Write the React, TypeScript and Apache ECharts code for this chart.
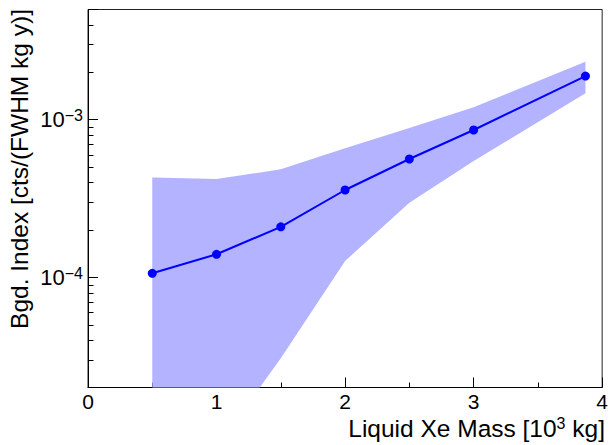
import React, { useEffect, useRef } from "react";
import * as echarts from "echarts";

// ---- data ----
const massX = [0.5, 1.0, 1.5, 2.0, 2.5, 3.0, 3.87];
const bgdIndex = [1.06e-4, 1.4e-4, 2.09e-4, 3.58e-4, 5.63e-4, 8.6e-4, 1.89e-3];
const bandUpper = [4.3e-4, 4.2e-4, 4.84e-4, 6.6e-4, 8.85e-4, 1.2e-3, 2.33e-3];
const bandLower = [5e-6, 8.3e-6, 3.07e-5, 1.27e-4, 2.97e-4, 5.47e-4, 1.47e-3];
const yMinorTicks = [
  3e-5, 4e-5, 5e-5, 6e-5, 7e-5, 8e-5, 9e-5,
  2e-4, 3e-4, 4e-4, 5e-4, 6e-4, 7e-4, 8e-4, 9e-4,
  2e-3, 3e-3, 4e-3,
];
const xRange = [0, 4];
const yRange = [2e-5, 5e-3];
const xTitle = "Liquid Xe Mass [10";
const xTitleSup = "3";
const xTitleEnd = " kg]";
const yTitle = "Bgd. Index [cts/(FWHM kg y)]";

const FONT = "'Liberation Sans', Arial, Helvetica, sans-serif";

export default function App() {
  const ref = useRef<HTMLDivElement>(null);
  useEffect(() => {
    if (!ref.current) return;
    const chart = echarts.init(ref.current, null, { renderer: "svg" });
    const option: any = {
      animation: false,
      backgroundColor: "#fff",
      grid: {
        left: 88,
        right: 4,
        top: 9.5,
        bottom: 57.5,
        show: true,
        borderColor: "#222",
        borderWidth: 1,
        backgroundColor: "transparent",
      },
      xAxis: {
        type: "value",
        min: xRange[0],
        max: xRange[1],
        interval: 1,
        splitLine: { show: false },
        axisLine: { show: true, lineStyle: { color: "#000", width: 1 } },
        axisTick: { show: true, inside: true, length: 10, lineStyle: { color: "#000" } },
        minorTick: { show: true, splitNumber: 2, length: 5, lineStyle: { color: "#000" } },
        axisLabel: {
          color: "#000",
          fontSize: 21,
          fontFamily: FONT,
          margin: 3,
          showMaxLabel: true,
          alignMaxLabel: "center",
          alignMinLabel: "center",
          hideOverlap: false,
        },
      },
      yAxis: {
        type: "log",
        logBase: 10,
        min: yRange[0],
        max: yRange[1],
        splitLine: { show: false },
        axisLine: { show: true, lineStyle: { color: "#000", width: 1 } },
        axisTick: { show: true, inside: true, length: 10, lineStyle: { color: "#000" } },
        axisLabel: {
          color: "#000",
          margin: 5,
          fontFamily: FONT,
          formatter: (v: number) => {
            const e = Math.log10(v);
            const r = Math.round(e);
            if (Math.abs(e - r) > 1e-6) return "";
            return `{b|10}{s|${r < 0 ? "\u2212" : ""}${Math.abs(r)}}`;
          },
          rich: {
            b: { fontSize: 22, lineHeight: 24, fontFamily: FONT, color: "#000" },
            s: { fontSize: 16, lineHeight: 22, verticalAlign: "top", fontFamily: FONT, color: "#000" },
          },
        },
      },
      series: [
        {
          type: "custom",
          name: "band",
          silent: true,
          clip: true,
          z: 1,
          data: [[massX[0], bandUpper[0]]],
          renderItem: (params: any, api: any) => {
            const upper = massX.map((x, i) => api.coord([x, bandUpper[i]]));
            const lower = massX.map((x, i) => api.coord([x, bandLower[i]])).reverse();
            const cs = params.coordSys;
            return {
              type: "polygon",
              shape: { points: upper.concat(lower) },
              style: { fill: "#b3b3ff", stroke: "none" },
              clipPath: {
                type: "rect",
                shape: { x: cs.x, y: cs.y, width: cs.width, height: cs.height },
              },
            };
          },
        },
        {
          type: "line",
          name: "bgd",
          z: 3,
          data: massX.map((x, i) => [x, bgdIndex[i]]),
          symbol: "circle",
          symbolSize: 9,
          showSymbol: true,
          lineStyle: { color: "#0000ff", width: 2 },
          itemStyle: { color: "#0000ff" },
        },
        {
          type: "custom",
          name: "yMinor",
          silent: true,
          z: 4,
          data: yMinorTicks.map((v) => [xRange[0], v]),
          renderItem: (params: any, api: any) => {
            const p = api.coord([api.value(0), api.value(1)]);
            const y = Math.round(p[1]) + 0.5;
            return {
              type: "line",
              shape: { x1: p[0], y1: y, x2: p[0] + 5.5, y2: y },
              style: { stroke: "#000", lineWidth: 1 },
            };
          },
        },
      ],
      graphic: [
        {
          type: "text",
          x: 605,
          y: 415,
          style: {
            text: `{b|${xTitle}}{s|${xTitleSup}}{b|${xTitleEnd}}`,
            align: "right",
            textAlign: "right",
            verticalAlign: "top",
            textVerticalAlign: "top",
            fill: "#000",
            rich: {
              b: { fontSize: 24.5, lineHeight: 26, fontFamily: FONT, fill: "#000" },
              s: { fontSize: 16, lineHeight: 17, verticalAlign: "top", fontFamily: FONT, fill: "#000" },
            },
          },
        },
        {
          type: "text",
          x: 19,
          y: 9,
          rotation: Math.PI / 2,
          style: {
            text: yTitle,
            align: "right",
            textAlign: "right",
            verticalAlign: "middle",
            textVerticalAlign: "middle",
            fill: "#000",
            fontSize: 24.5,
            fontFamily: FONT,
            font: `24.5px ${FONT}`,
          },
        },
      ],
    };
    chart.setOption(option);
    return () => chart.dispose();
  }, []);
  return (
    <div
      ref={ref}
      style={{ position: "absolute", left: 0, top: 0, width: 611, height: 445, background: "#fff" }}
    />
  );
}
